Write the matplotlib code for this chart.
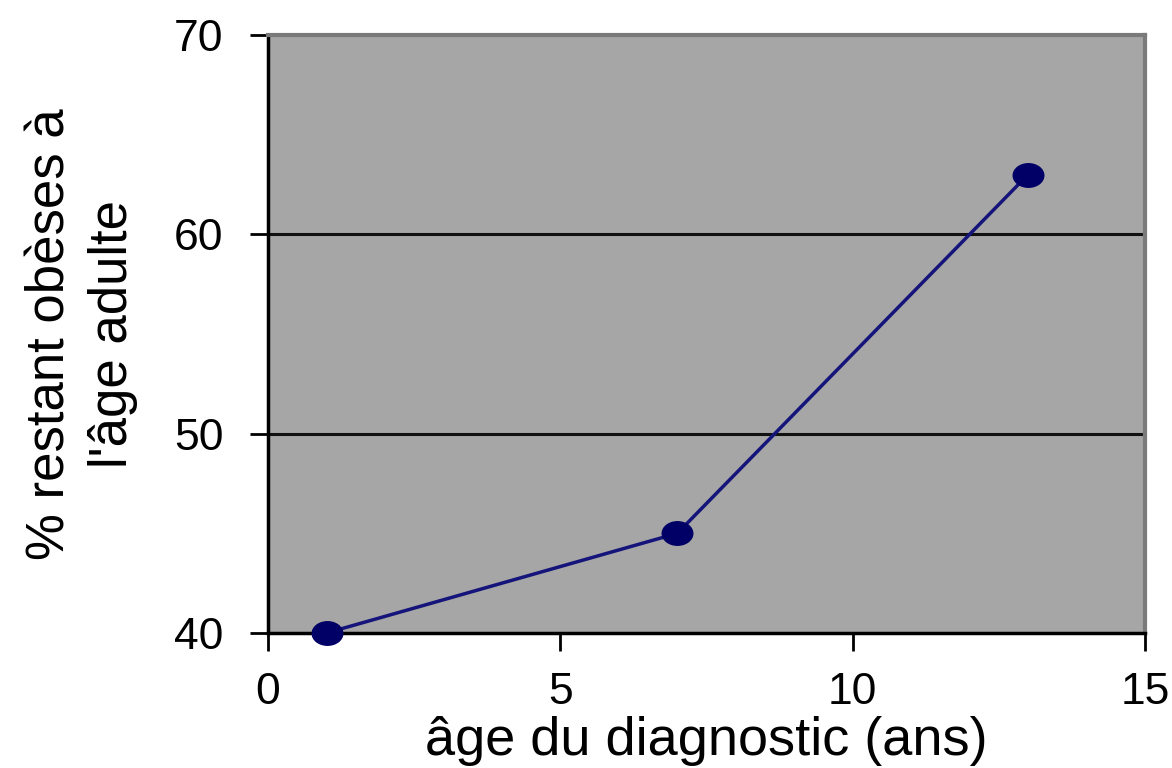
import matplotlib.pyplot as plt
from matplotlib.path import Path
from matplotlib.transforms import Affine2D

# age at diagnosis (years) vs % still obese as adults
age_diag = [1, 7, 13]
pct_obese = [40, 45, 63]
x_ticks = [0, 5, 10, 15]
y_ticks = [40, 50, 60, 70]

plt.rcParams['font.family'] = ['Liberation Sans', 'DejaVu Sans']

fig = plt.figure(figsize=(11.72, 7.68), dpi=100)
ax = fig.add_axes([0.2287, 0.1758, 0.977 - 0.2287, 0.9544 - 0.1758])
ax.set_facecolor('#a6a6a6')

# slightly flattened dot, like the old spreadsheet markers
oval = Path.unit_circle().transformed(Affine2D().scale(1.3, 1.0))

ax.plot(age_diag, pct_obese, color='#14147a', lw=2.5,
        marker=oval, ms=22, mfc='#000066', mec='#000066', clip_on=False, zorder=3)

for yv in [50, 60]:
    ax.axhline(yv, color='#111111', lw=2.2, zorder=1)

ax.set_xlim(0, 15)
ax.set_ylim(40, 70)
ax.set_xticks(x_ticks)
ax.set_yticks(y_ticks)
ax.tick_params(axis='both', direction='out', length=13, width=2, color='black',
               labelsize=32)
ax.tick_params(axis='x', pad=15)
ax.tick_params(axis='y', pad=19)

ax.spines['left'].set_linewidth(2.5)
ax.spines['bottom'].set_linewidth(2.5)
ax.spines['top'].set_color('#7a7a7a')
ax.spines['right'].set_color('#7a7a7a')
ax.spines['top'].set_linewidth(3)
ax.spines['right'].set_linewidth(3)

ax.set_xlabel('âge du diagnostic (ans)', fontsize=39, labelpad=2)
ax.set_ylabel("% restant obèses à\nl'âge adulte", fontsize=38, labelpad=26,
              linespacing=1.32)

fig.savefig('out.png', dpi=100)
